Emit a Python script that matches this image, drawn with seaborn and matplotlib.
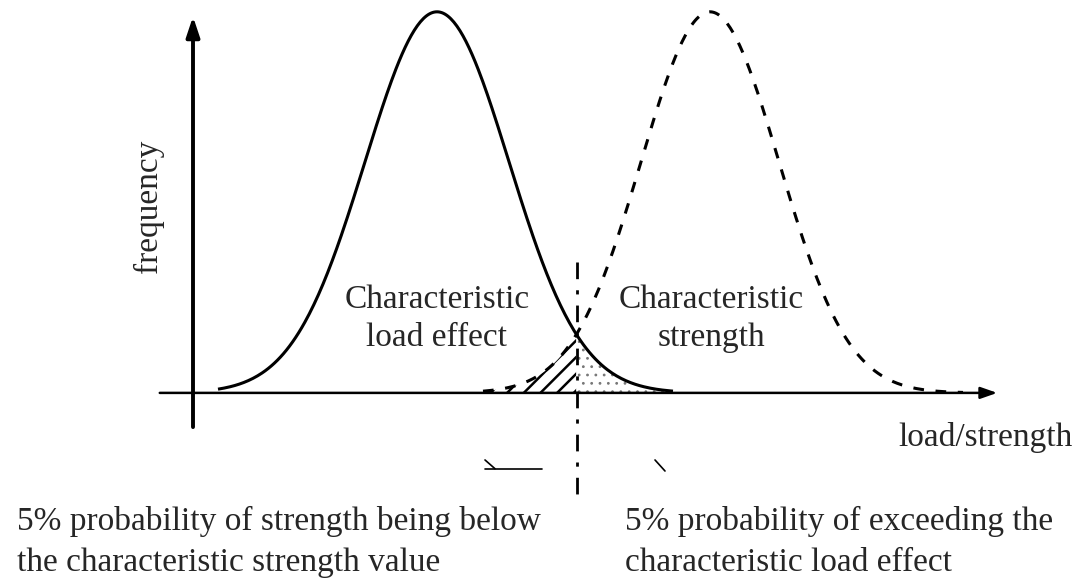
import numpy as np
import pandas as pd
import matplotlib
matplotlib.use("Agg")
import matplotlib.pyplot as plt
import seaborn as sns

# --- values (x unit = 10 px, y: peak height = 1) ---
curve_names = ["load effect", "strength"]
curve_means = [24.4, 51.7]
curve_sds = [7.2, 6.9]
curve_ranges = [(2.5, 48.0), (29.0, 77.0)]
char_value = 38.4  # characteristic value (dash-dot line)

label_load = "Characteristic\nload effect"
label_strength = "Characteristic\nstrength"
label_x = "load/strength"
label_y = "frequency"
note_left = "5% probability of strength being below\nthe characteristic strength value"
note_right = "5% probability of exceeding the\ncharacteristic load effect"

# --- curves ---
rows = []
for name, mu, sd, (lo, hi) in zip(curve_names, curve_means, curve_sds, curve_ranges):
    xs = np.linspace(lo, hi, 300)
    ys = np.exp(-0.5 * ((xs - mu) / sd) ** 2)
    rows.append(pd.DataFrame({"x": xs, "y": ys, "curve": name}))
df = pd.concat(rows, ignore_index=True)

sns.set_style("white")
plt.rcParams["font.family"] = ["Liberation Serif", "DejaVu Serif"]
plt.rcParams["hatch.linewidth"] = 1.8

fig = plt.figure(figsize=(10.77, 5.8), dpi=100)
ax = fig.add_axes([0, 0, 1, 1])
ax.set_xlim(-19.3, 88.4)
ax.set_ylim(-0.491, 1.031)
ax.axis("off")

sns.lineplot(data=df, x="x", y="y", hue="curve", style="curve",
             palette=["black", "black"], dashes=[(1, 0), (3.5, 3.8)],
             linewidth=2.2, legend=False, ax=ax, sort=False)

# shaded tails
load = df[df.curve == "load effect"]
stren = df[df.curve == "strength"]
m = stren.x <= char_value
ax.fill_between(stren.x[m], 0, stren.y[m], facecolor="none", edgecolor="black",
                hatch="//", linewidth=0)
m = load.x >= char_value
plt.rcParams["hatch.linewidth"] = 0.8
ax.fill_between(load.x[m], 0, load.y[m], facecolor="none", edgecolor="#777777",
                hatch="..", linewidth=0)

# axes arrows
ax.annotate("", xy=(80.7, 0), xytext=(-3.6, 0),
            arrowprops=dict(arrowstyle="-|>,head_length=1.0,head_width=0.35",
                            color="black", lw=1.8))
ax.annotate("", xy=(0, 0.995), xytext=(0, -0.097),
            arrowprops=dict(arrowstyle="-|>,head_length=1.2,head_width=0.4",
                            color="black", lw=2.8))

# characteristic value line
ax.plot([char_value, char_value], [0.344, -0.273], color="black", lw=2,
        linestyle=(0, (6, 4, 1.5, 4)))

# leader marks
ax.plot([29.2, 34.9], [-0.199, -0.199], color="black", lw=1.2)
ax.plot([29.2, 30.2], [-0.176, -0.199], color="black", lw=1.2)
ax.plot([46.2, 47.2], [-0.176, -0.205], color="black", lw=1.2)

ax.text(-4.5, 0.49, label_y, rotation=90, ha="center", va="center", fontsize=24)
ax.text(24.4, 0.195, label_load, ha="center", va="center", fontsize=24,
        linespacing=1.3)
ax.text(51.8, 0.195, label_strength, ha="center", va="center", fontsize=24,
        linespacing=1.3)
ax.text(88.0, -0.118, label_x, ha="right", va="center", fontsize=24)
ax.text(-17.6, -0.39, note_left, ha="left", va="center", fontsize=24,
        linespacing=1.45)
ax.text(43.2, -0.39, note_right, ha="left", va="center", fontsize=24,
        linespacing=1.45)

fig.savefig("out.png", dpi=100)
